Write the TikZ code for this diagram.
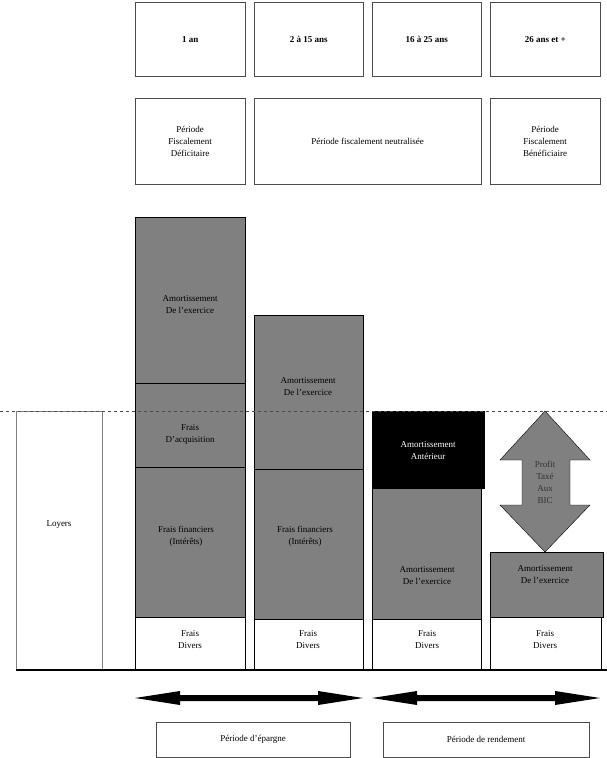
\documentclass[tikz,border=0pt]{standalone}
\usepackage{fontspec}
\setmainfont{Liberation Serif}
\usetikzlibrary{calc}
\begin{document}
\begin{tikzpicture}[x=1pt,y=-1pt,
 box/.style={draw=black!70,align=center,font=\fontsize{9}{12}\selectfont,inner sep=0},
 gbox/.style={fill=black!50,draw=black},
 t/.style={align=center,font=\fontsize{9}{12}\selectfont}]
\useasboundingbox (0,0) rectangle (607,758);
% header
\foreach \n/\a/\w/\s in {h1/135/110/1 an,h2/254/109/2 à 15 ans,h3/372/109/16 à 25 ans,h4/490/110/26 ans et +}
 \node[box,font=\bfseries\fontsize{9}{12}\selectfont,minimum width=\w pt,minimum height=74pt,anchor=north west] (\n) at (\a,2) {\s};
\node[box,minimum width=110pt,minimum height=86pt,anchor=north west] (p1) at (135,98) {Période\\Fiscalement\\Déficitaire};
\node[box,minimum width=227pt,minimum height=86pt,anchor=north west] (p2) at (254,98) {Période fiscalement neutralisée};
\node[box,minimum width=110pt,minimum height=86pt,anchor=north west] (p3) at (490,98) {Période\\Fiscalement\\Bénéficiaire};
% loyers
\draw[black!50] (16,411) rectangle (102,670);
\node[t] (loy) at (59,525) {Loyers};
% col1
\draw[gbox] (135,217) rectangle (245,383);
\draw[gbox] (135,383) rectangle (245,467);
\draw[gbox] (135,467) rectangle (245,617);
\draw[draw=black] (135,617) rectangle (245,670);
\node[t] (a1) at (190,305) {Amortissement\\De l’exercice};
\node[t] (b1) at (190,434) {Frais\\D’acquisition};
\node[t] (c1) at (186,536) {Frais financiers\\(Intérêts)};
\node[t] (d1) at (190,640) {Frais\\Divers};
% col2
\draw[gbox] (254,315) rectangle (363,469);
\draw[gbox] (254,469) rectangle (363,619);
\draw[draw=black] (254,619) rectangle (363,670);
\node[t] (a2) at (308,387) {Amortissement\\De l’exercice};
\node[t] (c2) at (305,536) {Frais financiers\\(Intérêts)};
\node[t] (d2) at (308,640) {Frais\\Divers};
% col3
\draw[fill=black] (372,411) rectangle (484,488);
\draw[gbox] (372,488) rectangle (481,619);
\draw[draw=black] (372,619) rectangle (481,670);
\node[t,text=white] (a3) at (428,451) {Amortissement\\Antérieur};
\node[t] (b3) at (427,576) {Amortissement\\De l’exercice};
\node[t] (d3) at (427,640) {Frais\\Divers};
% col4
\draw[gbox] (490,552) rectangle (603,617);
\draw[draw=black] (490,617) rectangle (601,670);
\node[t] (a4) at (545,575) {Amortissement\\De l’exercice};
\node[t] (d4) at (545,640) {Frais\\Divers};
\draw[gbox] (545,411) -- (590,460) -- (570,460) -- (570,505) -- (590,505) -- (545,552) -- (500,505) -- (522,505) -- (522,460) -- (500,460) -- cycle;
\node[t,text=black!80] (pr) at (545,482) {Profit\\Taxé\\Aux\\BIC};
% lines
\draw[dashed,black!70] (0,411) -- (607,411);
\draw[line width=2pt] (16,670) -- (607,670);
% arrows
\coordinate (e1) at (135,698); \coordinate (e2) at (363,698);
\coordinate (e3) at (372,698); \coordinate (e4) at (600,698);
\foreach \u/\v in {e1/e2,e3/e4}
 \fill (\u) -- ++(45,-7) -- ++(0,4) -- ($(\v)+(-45,-3)$) -- ++(0,-4) -- (\v) -- ++(-45,7) -- ++(0,-4) -- ($(\u)+(45,3)$) -- ++(0,4) -- cycle;
\node[box,minimum width=194pt,minimum height=35pt,anchor=north west] (q1) at (156,722) {Période d’épargne};
\node[box,minimum width=206pt,minimum height=35pt,anchor=north west] (q2) at (383,722) {Période de rendement};
\end{tikzpicture}
\end{document}
